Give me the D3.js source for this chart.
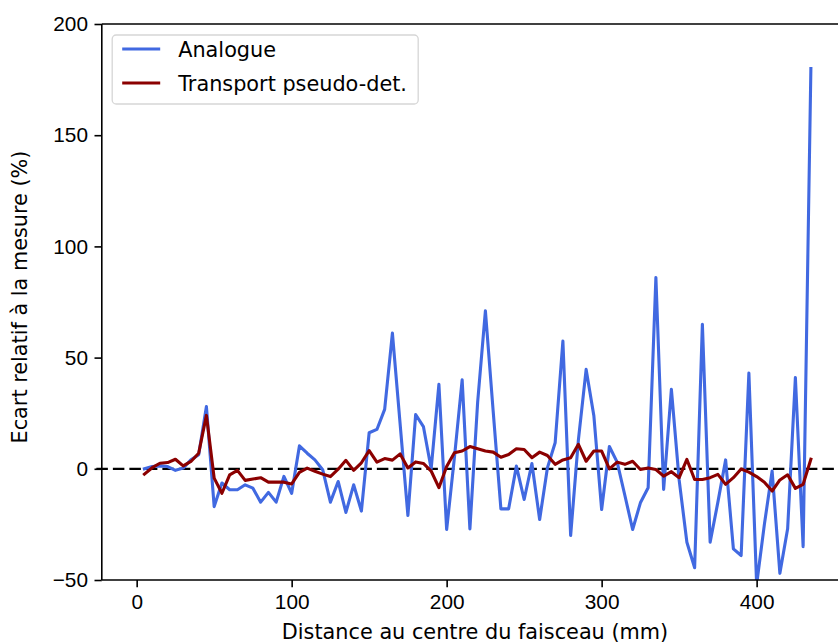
<!DOCTYPE html>
<html lang="fr">
<meta charset="UTF-8">
<title>Ecart relatif à la mesure</title>
<script src="https://d3js.org/d3.v7.min.js"></script>
<style>
  html, body { margin: 0; padding: 0; background: #fff; overflow: hidden; }
  svg { font-family: "DejaVu Sans", sans-serif; display: block; }
</style>
<body>
<div id="my_dataviz"></div>
<script>

// distances (mm), one point every 5 mm
var distance = d3.range(1, 88).map(function(i) { return i * 5; });

// Analogue
var analogue = [
  0, 1, 1.3, 1, -0.7, 0.3, 4, 6.3, 28, -17,
  -6.4, -9.4, -9.4, -7.2, -8.7, -15, -10.6, -15, -3.4, -11,
  10.3, 7, 4, -0.4, -15, -5.7, -19.6, -7.2, -19, 16.2,
  17.7, 26.7, 61, 20, -21, 24.4, 19, 0, 38, -27.3,
  5, 40, -27, 30, 71, 26, -18, -18, 1.2, -13.8,
  2.4, -22.8, 0.4, 11.7, 57.4, -30, 13, 44.7, 23.7, -18.3,
  10, 3, -12, -27.3, -15.3, -8.5, 86, -9.3, 35.7, -5,
  -33, -44.5, 65, -33, -15, 4, -36, -39, 43, -52,
  -25, -1, -47, -27, 41, -35, 180
];

// Transport pseudo-det.
var pseudoDet = [
  -2.4, 0.5, 2.5, 2.8, 4.3, 1.3, 3.3, 7, 24, -4.2,
  -11, -2.7, -0.7, -5.2, -4.6, -4, -6, -6, -6, -6.8,
  -1.6, 0.3, -1.1, -2.4, -3.5, -0.2, 3.8, -0.7, 2.7, 8.2,
  3, 4.6, 3.9, 6.7, 0.4, 3.1, 2.4, -1, -8.5, 1,
  7.2, 8, 10, 9, 8, 7.5, 5.2, 6.4, 9, 8.7,
  5, 7.5, 6, 2, 4, 5, 11, 3.4, 8, 8,
  0, 3, 2, 3.4, -0.3, 0.4, -0.3, -3.3, -1.3, -4,
  4.2, -4.8, -4.8, -4, -2.5, -7, -4, -0.1, -1.5, -3.5,
  -6, -10, -5, -2.7, -8.8, -7, 4.3
];

var xTicks = [0, 100, 200, 300, 400];
var yTicks = [-50, 0, 50, 100, 150, 200];
var zeroLine = [-26, 480];

var series = [
  { name: "Analogue", values: analogue, color: "#4169e1" },
  { name: "Transport pseudo-det.", values: pseudoDet, color: "#8b0000" }
];

// set the dimensions and margins of the graph
var margin = {top: 24, left: 101.8},
    width = 767.2,
    height = 556,
    fs = 20.8;

var svg = d3.select("#my_dataviz")
  .append("svg")
    .attr("width", 838)
    .attr("height", 644)
  .append("g")
    .attr("transform", "translate(" + margin.left + "," + margin.top + ")");

var x = d3.scaleLinear()
  .domain([-22.5, 472.5])
  .range([0, width]);

var y = d3.scaleLinear()
  .domain([-50, 200])
  .range([height, 0]);

svg.append("clipPath").attr("id", "clip")
  .append("rect").attr("width", width).attr("height", height);

// zero reference line
svg.append("line")
  .attr("x1", x(zeroLine[0]))
  .attr("x2", x(zeroLine[1]))
  .attr("y1", y(0))
  .attr("y2", y(0))
  .attr("stroke", "black")
  .attr("stroke-width", 2.2)
  .attr("stroke-dasharray", "11.5,5");

var line = d3.line()
  .x(function(d, i) { return x(distance[i]); })
  .y(function(d) { return y(d); });

svg.append("g").attr("clip-path", "url(#clip)")
  .selectAll("path")
  .data(series)
  .enter()
  .append("path")
    .attr("d", function(s) { return line(s.values); })
    .attr("fill", "none")
    .attr("stroke", function(s) { return s.color; })
    .attr("stroke-width", 3.1)
    .attr("stroke-linejoin", "round")
    .attr("stroke-linecap", "square");

// axes
var fmt = function(d) { return d < 0 ? "\u2212" + Math.abs(d) : d; };

var xAxis = svg.append("g")
  .attr("transform", "translate(0," + height + ")")
  .call(d3.axisBottom(x).tickValues(xTicks).tickFormat(fmt).tickSize(7.3).tickPadding(6.5));

var yAxis = svg.append("g")
  .call(d3.axisLeft(y).tickValues(yTicks).tickFormat(fmt).tickSize(7.3).tickPadding(6.5));

[xAxis, yAxis].forEach(function(a) {
  a.select(".domain").remove();
  a.selectAll(".tick line").attr("stroke", "black").attr("stroke-width", 1.6);
  a.selectAll(".tick text").attr("fill", "black").style("font-size", fs + "px");
});

// spines (left, bottom, top; right one falls outside the picture)
svg.append("line").attr("x1", 0).attr("x2", 0).attr("y1", 0).attr("y2", height)
  .attr("stroke", "black").attr("stroke-width", 1.6);
svg.append("line").attr("x1", 0).attr("x2", width).attr("y1", height).attr("y2", height)
  .attr("stroke", "black").attr("stroke-width", 1.6);
svg.append("line").attr("x1", 0).attr("x2", width).attr("y1", 0).attr("y2", 0)
  .attr("stroke", "black").attr("stroke-width", 1.6);
svg.append("line").attr("x1", width).attr("x2", width).attr("y1", 0).attr("y2", height)
  .attr("stroke", "black").attr("stroke-width", 1.6);

// axis labels
svg.append("text")
  .attr("x", (475 - margin.left))
  .attr("y", 639 - margin.top)
  .style("text-anchor", "middle")
  .style("font-size", fs + "px")
  .text("Distance au centre du faisceau (mm)");

svg.append("text")
  .attr("transform", "rotate(-90)")
  .attr("x", -(297 - margin.top))
  .attr("y", 27 - margin.left)
  .style("text-anchor", "middle")
  .style("font-size", fs + "px")
  .text("Ecart relatif à la mesure (%)");

// legend
var legend = svg.append("g").attr("transform", "translate(10.4,11)");
legend.append("rect")
  .attr("width", 306)
  .attr("height", 69)
  .attr("rx", 4)
  .attr("fill", "white")
  .attr("fill-opacity", 0.8)
  .attr("stroke", "#d6d6d6")
  .attr("stroke-width", 1.3);

var item = legend.selectAll(".item")
  .data(series)
  .enter()
  .append("g")
    .attr("transform", function(d, i) { return "translate(0," + (14 + i * 34) + ")"; });

item.append("line")
  .attr("x1", 10).attr("x2", 48)
  .attr("y1", 0).attr("y2", 0)
  .attr("stroke", function(d) { return d.color; })
  .attr("stroke-width", 3.1);

item.append("text")
  .attr("x", 66)
  .attr("y", 7.5)
  .style("font-size", fs + "px")
  .text(function(d) { return d.name; });

</script>
</body>
</html>
